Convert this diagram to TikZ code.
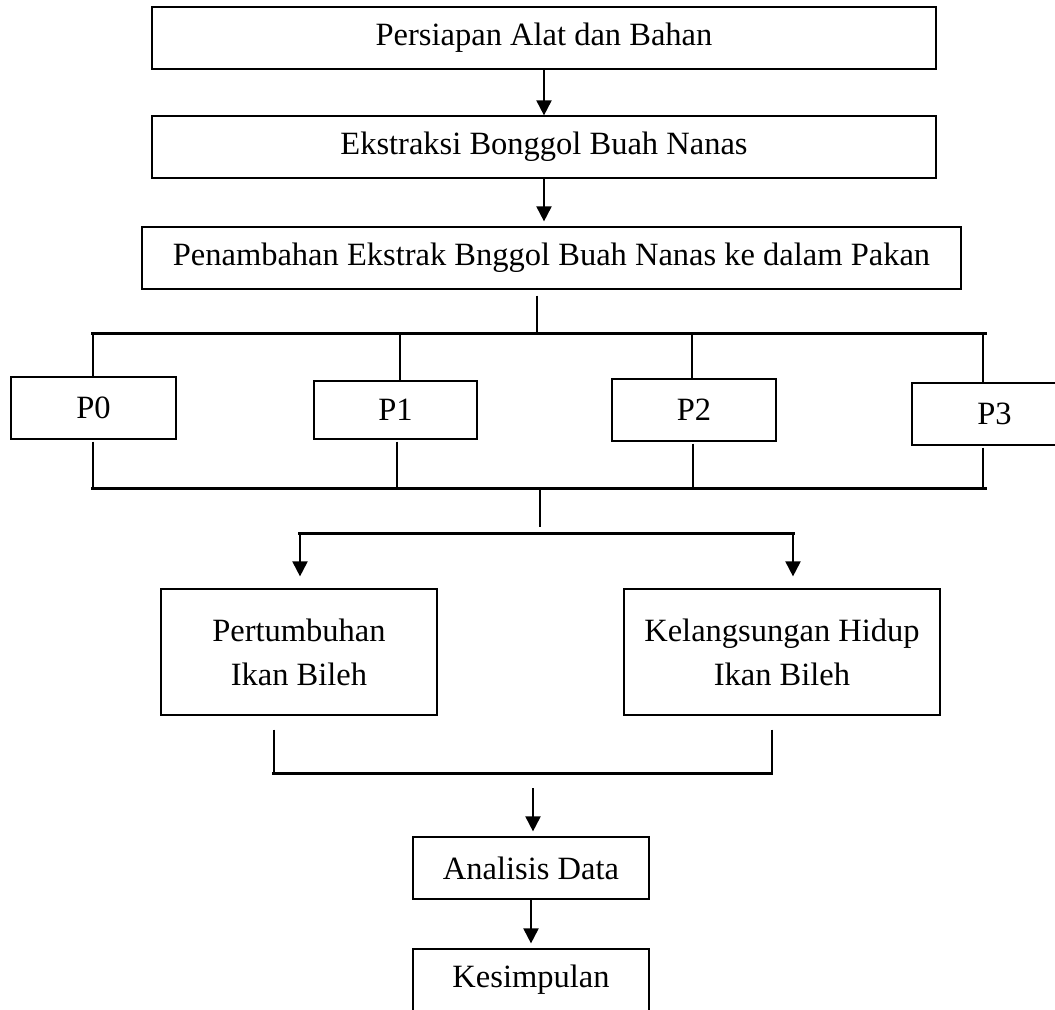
\documentclass[tikz,border=0pt]{standalone}
\usepackage{fontspec}
\setmainfont{Liberation Serif}
\usepackage{tikz}
\usetikzlibrary{arrows.meta, calc}

\begin{document}
\begin{tikzpicture}[
  x=0.02cm, y=-0.02cm,
  box/.style={draw, line width=0.7pt, inner sep=0pt, minimum height=1.24cm, align=center, font=\fontsize{18.5}{25}\selectfont},
  arrow/.style={-{Triangle[length=3mm, width=3mm]}, line width=1.1pt},
  link/.style={line width=1.1pt},
  bus/.style={line width=1.7pt},
]
\useasboundingbox (0,0) rectangle (1055,1009);
\clip (0,0) rectangle (1055,1009);

% Preparation steps
\node[box, minimum width=15.68cm] (persiapan) at (544,38) {Persiapan Alat dan Bahan};
\node[box, minimum width=15.68cm] (ekstraksi) at (544,147) {Ekstraksi Bonggol Buah Nanas};
\node[box, minimum width=16.38cm] (penambahan) at (551.5,258) {Penambahan Ekstrak Bnggol Buah Nanas ke dalam Pakan};

% Treatments
\node[box, minimum width=3.3cm] (P0) at (93.5,408) {P0};
\node[box, minimum width=3.26cm, minimum height=1.16cm] (P1) at (395.5,410) {P1};
\node[box, minimum width=3.28cm] (P2) at (694,410) {P2};
\node[box, minimum width=3.3cm] (P3) at (994.5,414) {P3};

% Observed parameters
\node[box, minimum width=5.52cm, minimum height=2.52cm] (pertumbuhan) at (299,652) {Pertumbuhan\\Ikan Bileh};
\node[box, minimum width=6.32cm, minimum height=2.52cm] (kelangsungan) at (782,652) {Kelangsungan Hidup\\Ikan Bileh};

% Output
\node[box, minimum width=4.72cm] (analisis) at (531,868) {Analisis Data};
\node[box, minimum width=4.72cm] (kesimpulan) at (531,980) {Kesimpulan};

% Bus points
\coordinate (split) at (537,333);
\coordinate (t0) at (93,333);
\coordinate (t1) at (400,333);
\coordinate (t2) at (692,333);
\coordinate (t3) at (983,333);
\coordinate (b0) at (93,488);
\coordinate (b1) at (397,488);
\coordinate (b2) at (693,488);
\coordinate (b3) at (983,488);
\coordinate (merge) at (540,488);
\coordinate (fork) at (540,527);
\coordinate (fL) at (300,533);
\coordinate (fR) at (793,533);
\coordinate (jL) at (274,773);
\coordinate (jR) at (772,773);
\coordinate (join) at (533,788);

% Arrows
\draw[arrow] (persiapan) -- (ekstraksi);
\draw[arrow] (ekstraksi.south) -- ($(penambahan.north -| ekstraksi.south)+(0,-5)$);
\draw[link] ($(penambahan.south -| split)+(0,6)$) -- (split);

% Split to treatments
\draw[bus] (91,333) -- (987,333);
\foreach \p/\t in {P0/t0, P1/t1, P2/t2, P3/t3}
  \draw[link] (\t) -- (\p.north -| \t);
\foreach \p/\b in {P0/b0, P1/b1, P2/b2, P3/b3}
  \draw[link] ($(\p.south -| \b)+(0,2)$) -- (\b);
\draw[bus] (91,488) -- (987,488);
\draw[link] (merge) -- (fork);

% Fork to parameters
\draw[bus] (298,533) -- (795,533);
\draw[arrow] (fL) -- ($(fL |- pertumbuhan.north)+(0,-12)$);
\draw[arrow] (fR) -- ($(fR |- kelangsungan.north)+(0,-12)$);

% Join to analysis
\draw[link] ($(pertumbuhan.south -| jL)+(0,14)$) -- (jL);
\draw[link] ($(kelangsungan.south -| jR)+(0,14)$) -- (jR);
\draw[bus] (272,773) -- (773,773);
\draw[arrow] (join) -- ($(join |- analisis.north)+(0,-5)$);
\draw[arrow] (analisis.south) -- ($(kesimpulan.north)+(0,-5)$);

\end{tikzpicture}
\end{document}
